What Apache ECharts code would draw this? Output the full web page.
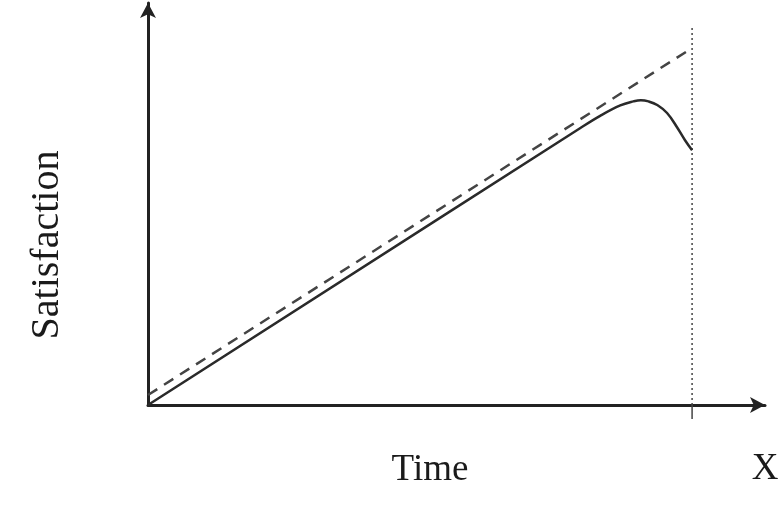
<!DOCTYPE html>
<html>
<head>
<meta charset="utf-8">
<script src="https://cdn.jsdelivr.net/npm/echarts@6/dist/echarts.min.js"></script>
<style>
html,body{margin:0;padding:0;background:#fff;}
#main{width:780px;height:515px;}
</style>
</head>
<body>
<div id="main"></div>
<script>
// expected satisfaction (dashed) and actual (solid)
var expectedLine = [[0, 2.5], [10, 89.25]];
var actualLine = [
    [0, 0], [7.94, 69.2], [8.31, 72.3], [8.68, 74.9], [8.92, 75.9], [9.06, 76.2],
    [9.2, 75.9], [9.36, 75], [9.54, 73], [9.72, 69.5], [9.87, 66.2], [10, 63.7]
];
var markX = 10;
var guideLine = [[markX, 94.25], [markX, 0]];
var guideTick = [[markX, 0], [markX, -3.5]];
var axisNames = { x: 'Time', y: 'Satisfaction', end: 'X' };

var serif = '"Liberation Serif", "DejaVu Serif", serif';
var dom = document.getElementById('main');
var myChart = echarts.init(dom);
var option = {
    animation: false,
    backgroundColor: '#fff',
    grid: { left: 148, right: 15, top: 3, bottom: 110 },
    xAxis: {
        type: 'value', min: 0, max: 11.34,
        axisLine: { show: true, symbol: ['none', 'arrow'], symbolSize: [12, 15],
            lineStyle: { color: '#222', width: 3 } },
        axisTick: { show: false }, axisLabel: { show: false }, splitLine: { show: false }
    },
    yAxis: {
        type: 'value', min: 0, max: 100.5,
        axisLine: { show: true, symbol: ['none', 'arrow'], symbolSize: [12, 15],
            lineStyle: { color: '#222', width: 3 } },
        axisTick: { show: false }, axisLabel: { show: false }, splitLine: { show: false }
    },
    graphic: [
        {
            type: 'text', x: 430, y: 470,
            style: { text: axisNames.x, font: '37px ' + serif, fill: '#1a1a1a',
                align: 'center', verticalAlign: 'middle' }
        },
        {
            type: 'text', x: 47, y: 245, rotation: Math.PI / 2,
            style: { text: axisNames.y, font: '40px ' + serif, fill: '#1a1a1a',
                align: 'center', verticalAlign: 'middle' }
        },
        {
            type: 'text', x: 765, y: 469,
            style: { text: axisNames.end, font: '37px ' + serif, fill: '#1a1a1a',
                align: 'center', verticalAlign: 'middle' }
        }
    ],
    series: [
        {
            type: 'line', data: guideLine, symbol: 'none', clip: false,
            lineStyle: { color: '#444', width: 1.5, type: [2, 3] }
        },
        {
            type: 'line', data: guideTick, symbol: 'none', clip: false,
            lineStyle: { color: '#444', width: 1.5 }
        },
        {
            type: 'line', data: expectedLine, symbol: 'none',
            lineStyle: { color: '#444', width: 2.5, type: [11, 8] }
        },
        {
            type: 'line', data: actualLine, symbol: 'none', smooth: 0.4,
            lineStyle: { color: '#2a2a2a', width: 2.5 }
        }
    ]
};
myChart.setOption(option, true);
</script>
</body>
</html>
